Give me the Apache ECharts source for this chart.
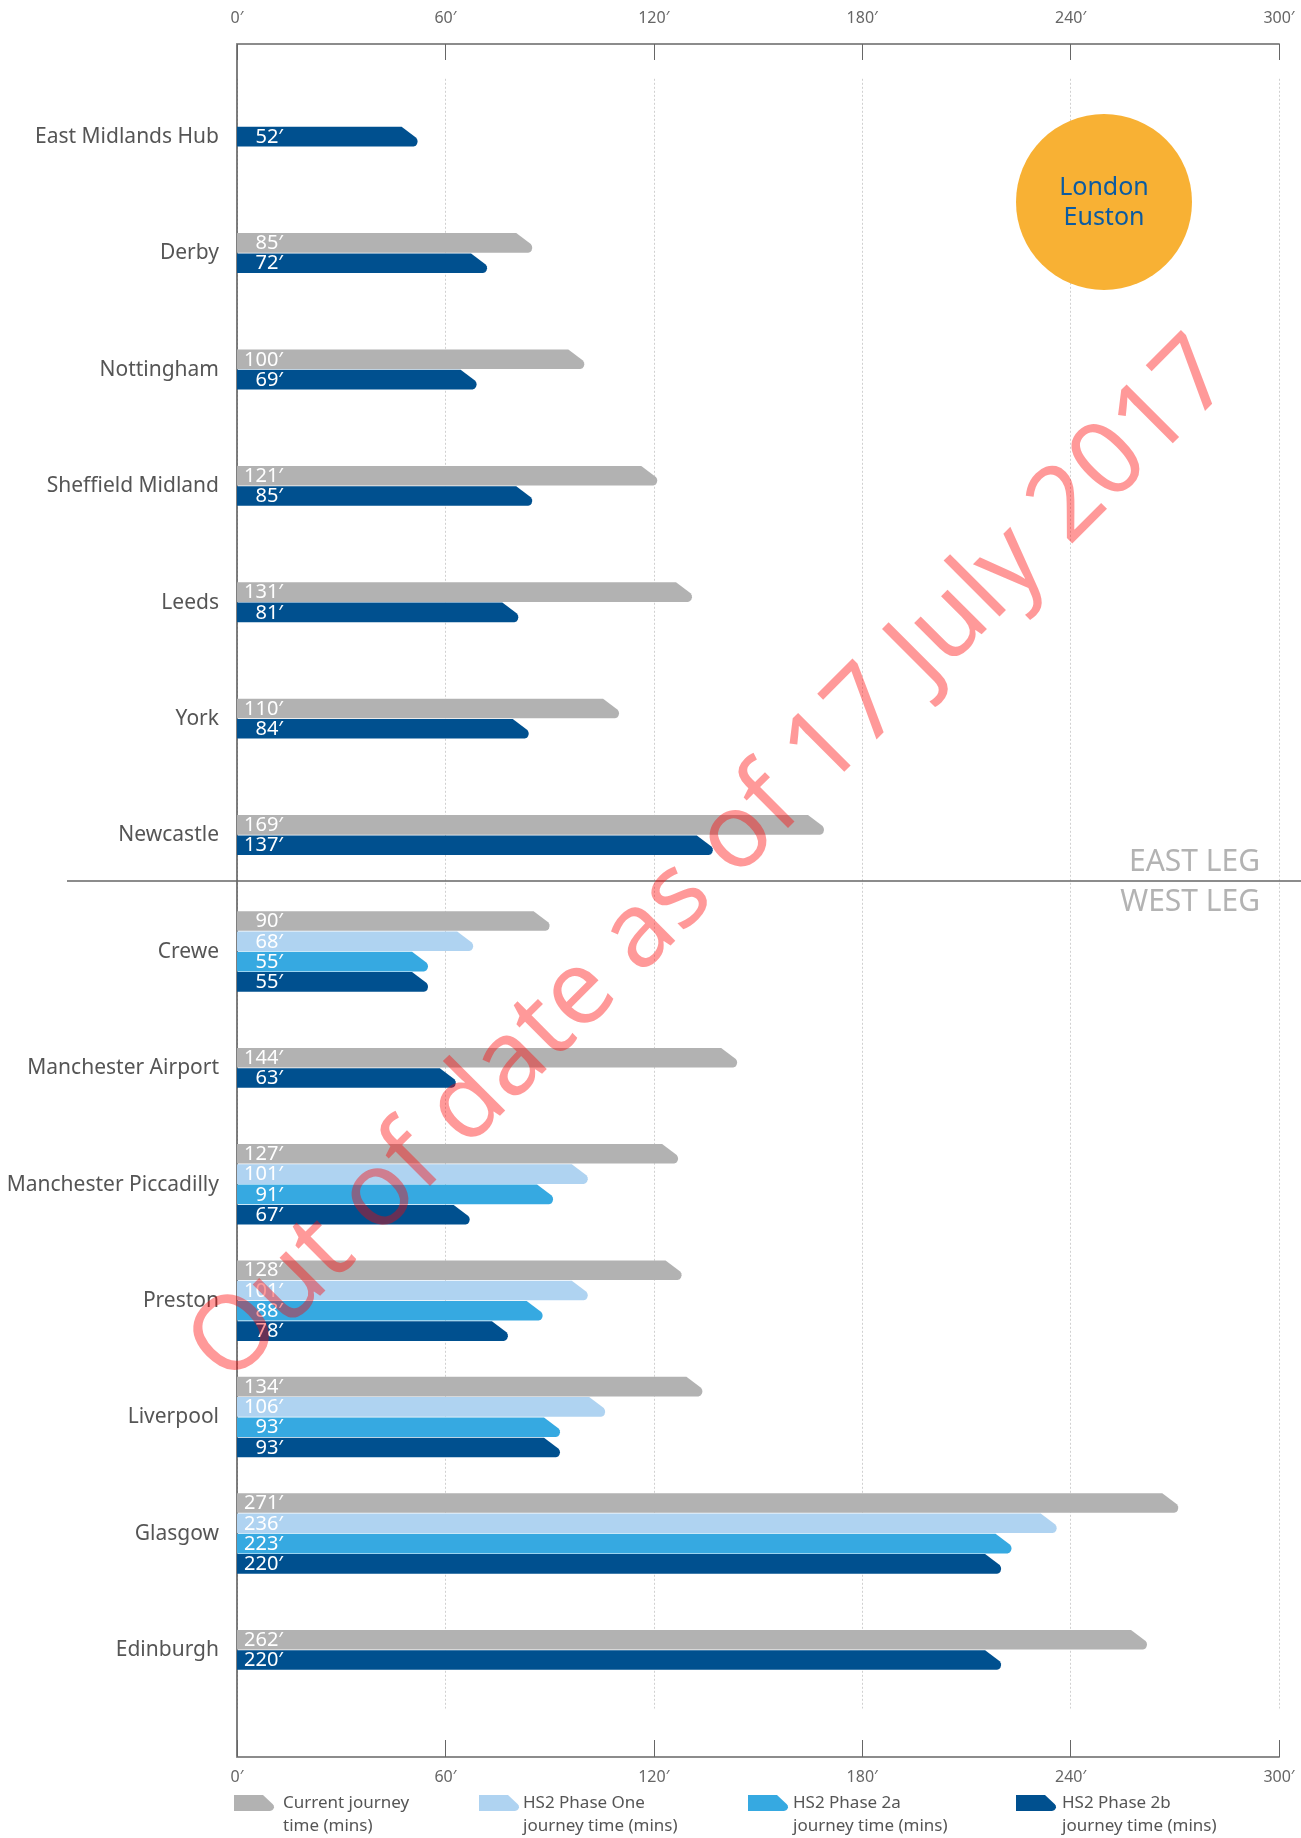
<!DOCTYPE html>
<html><head><meta charset="utf-8">
<script src="https://cdn.jsdelivr.net/npm/echarts@6/dist/echarts.min.js"></script>
<style>html,body{margin:0;padding:0;background:#fff}#c{width:1301px;height:1838px}</style>
</head><body><div id="c"></div>
<script>
const categories = ['East Midlands Hub','Derby','Nottingham','Sheffield Midland','Leeds','York','Newcastle',
  'Crewe','Manchester Airport','Manchester Piccadilly','Preston','Liverpool','Glasgow','Edinburgh'];
const current  = [null, 85, 100, 121, 131, 110, 169, 90, 144, 127, 128, 134, 271, 262];
const phaseOne = [null, null, null, null, null, null, null, 68, null, 101, 101, 106, 236, null];
const phase2a  = [null, null, null, null, null, null, null, 55, null, 91, 88, 93, 223, null];
const phase2b  = [52, 72, 69, 85, 81, 84, 137, 55, 63, 67, 78, 93, 220, 220];
const xTicks = [0, 60, 120, 180, 240, 300];
const seriesNames = ['Current journey', 'HS2 Phase One', 'HS2 Phase 2a', 'HS2 Phase 2b'];
const legendLine2 = ['time (mins)', 'journey time (mins)', 'journey time (mins)', 'journey time (mins)'];
const colors = ['#b2b2b2', '#afd3f1', '#36a9e1', '#00508f'];
const allSeries = [current, phaseOne, phase2a, phase2b];

const FONT = '"Noto Sans", "Open Sans", sans-serif';
const L = 237, W = 1042;

function nosePoints(x0, x1, yt, h, n) {
  n = Math.min(n, Math.max(0, x1 - x0));
  const yb = yt + h;
  return [[x0, yt], [x1 - n, yt], [x1 - 1.4, yt + h * 0.56], [x1 - 0.3, yt + h * 0.66], [x1, yt + h * 0.76],
          [x1 - 0.6, yt + h * 0.87], [x1 - 1.8, yt + h * 0.96], [x1 - 4, yb], [x0, yb]];
}

function makeRender(sIdx) {
  return function (params, api) {
    const cat = api.value(1);
    const v = api.value(0);
    const present = [];
    allSeries.forEach((arr, k) => { if (arr[cat] != null) present.push(k); });
    const n = present.length;
    const idx = present.indexOf(sIdx);
    const step = 20.3, h = 19.6;
    const p1 = api.coord([v, cat]);
    const p0 = api.coord([0, cat]);
    const yt = p1[1] - n * step / 2 + idx * step;
    return {
      type: 'group',
      children: [
        { type: 'polygon', shape: { points: nosePoints(p0[0], p1[0], yt, h, 16) }, style: { fill: colors[sIdx] } },
        { type: 'text', x: p0[0] + 46, y: yt + h / 2 + 0.5,
          style: { text: v + '\u2032', fill: '#ffffff', fontSize: 20, fontFamily: FONT,
                   align: 'right', verticalAlign: 'middle' } }
      ]
    };
  };
}

const series = allSeries.map((arr, k) => ({
  type: 'custom',
  name: seriesNames[k],
  coordinateSystem: 'cartesian2d',
  xAxisIndex: 2, yAxisIndex: 1,
  encode: { x: 0, y: 1 },
  renderItem: makeRender(k),
  data: arr.map((v, i) => v == null ? null : [v, i]).filter(d => d),
  z: 3
}));

const legendEls = [];
const legendIconX = [234, 479, 748, 1016];
const legendTextX = [283, 523, 793, 1062];
seriesNames.forEach((nm, k) => {
  legendEls.push({ type: 'polygon', shape: { points: nosePoints(legendIconX[k], legendIconX[k] + 40, 1795, 16, 11) },
    style: { fill: colors[k] }, z: 5 });
  legendEls.push({ type: 'text', x: legendTextX[k], y: 1792, z: 5,
    style: { text: nm + '\n' + legendLine2[k], fill: '#555', fontSize: 17, fontFamily: FONT, lineHeight: 23,
             align: 'left', verticalAlign: 'top' } });
});

const axisLabelFmt = v => v + '\u2032';
const option = {
  backgroundColor: '#fff',
  animation: false,
  grid: [
    { left: L, top: 44, width: W, height: 1713, containLabel: false },
    { left: L, top: 78.8, width: W, height: 1629.6, containLabel: false }
  ],
  xAxis: [
    { gridIndex: 0, type: 'value', position: 'top', min: 0, max: 300, interval: 60,
      axisLine: { show: true, onZero: false, lineStyle: { color: '#8c8c8c', width: 2 } },
      axisTick: { show: true, inside: true, length: 16, lineStyle: { color: '#666', width: 1 } },
      axisLabel: { formatter: axisLabelFmt, color: '#666', fontSize: 16, fontFamily: FONT, margin: 18 },
      splitLine: { show: false } },
    { gridIndex: 0, type: 'value', position: 'bottom', min: 0, max: 300, interval: 60,
      axisLine: { show: true, onZero: false, lineStyle: { color: '#8c8c8c', width: 2 } },
      axisTick: { show: true, inside: true, length: 17, lineStyle: { color: '#666', width: 1 } },
      axisLabel: { formatter: axisLabelFmt, color: '#666', fontSize: 16, fontFamily: FONT, margin: 12 },
      splitLine: { show: false } },
    { gridIndex: 1, type: 'value', min: 0, max: 300, interval: 60,
      axisLine: { show: false }, axisTick: { show: false }, axisLabel: { show: false },
      splitLine: { show: true, lineStyle: { color: '#d0d0d0', width: 1, type: [2, 2] } } }
  ],
  yAxis: [
    { gridIndex: 0, type: 'value', min: 0, max: 1,
      axisLine: { show: true, lineStyle: { color: '#555', width: 1.5 } },
      axisTick: { show: false }, axisLabel: { show: false }, splitLine: { show: false } },
    { gridIndex: 1, type: 'category', inverse: true, data: categories,
      axisLine: { show: false }, axisTick: { show: false },
      axisLabel: { color: '#555', fontSize: 21, fontFamily: FONT, margin: 18 },
      splitLine: { show: false } }
  ],
  series: series,
  graphic: [
    { type: 'circle', shape: { cx: 1104, cy: 202, r: 88 }, style: { fill: '#f8b134' }, z: 1 },
    { type: 'text', x: 1104, y: 203, z: 2,
      style: { text: 'London\nEuston', fill: '#0b5ba1', fontSize: 25, lineHeight: 30, fontFamily: FONT,
               align: 'center', verticalAlign: 'middle' } },
    { type: 'line', shape: { x1: 67, y1: 881, x2: 1301, y2: 881 }, style: { stroke: '#666', lineWidth: 1.5 }, z: 5 },
    { type: 'text', x: 1260, y: 862, z: 5,
      style: { text: 'EAST LEG', fill: '#b3b3b3', fontSize: 30, fontFamily: FONT,
               align: 'right', verticalAlign: 'middle' } },
    { type: 'text', x: 1260, y: 902, z: 5,
      style: { text: 'WEST LEG', fill: '#b3b3b3', fontSize: 30, fontFamily: FONT,
               align: 'right', verticalAlign: 'middle' } },
    { type: 'group', children: legendEls },
    { type: 'text', x: 712, y: 862, rotation: Math.PI / 4, z: 100,
      style: { text: 'Out of date as of 17 July 2017', fill: 'rgba(255,0,0,0.4)', fontSize: 104, fontFamily: FONT,
               align: 'center', verticalAlign: 'middle' } }
  ]
};

const chart = echarts.init(document.getElementById('c'), null, { renderer: 'canvas' });
chart.setOption(option);
</script>
</body></html>
